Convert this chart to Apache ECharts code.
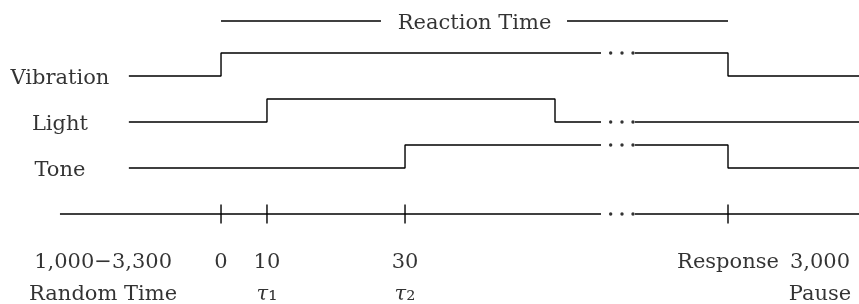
<!DOCTYPE html>
<html>
<head>
<meta charset="utf-8">
<script src="https://cdn.jsdelivr.net/npm/echarts@6/dist/echarts.min.js"></script>
<style>
  html, body { margin: 0; padding: 0; background: #fff; }
  #chart { width: 859px; height: 304px; }
</style>
</head>
<body>
<div id="chart"></div>
<script>
// positions along the schematic (not to scale) time axis, 0-100
var xSignalStart = 15.0;
var xOnset = 25.73;      // 0
var xTau1 = 31.08;       // 10
var xTau2 = 47.15;       // 30
var xLightOff = 64.61;
var xGapLeft = 69.97;
var xGapRight = 73.92;
var xResponse = 84.75;
var xEnd = 100;
var xAxisStart = 6.98;

// signals: [position, level 0/1], null = break (the "..." gap)
var signalNames = ['Vibration', 'Light', 'Tone'];
var signalRows = [6, 4, 2];
var vibrationSteps = [[xSignalStart, 0], [xOnset, 1], [xGapLeft, 1], null, [xGapRight, 1], [xResponse, 0], [xEnd, 0]];
var lightSteps = [[xSignalStart, 0], [xTau1, 1], [xLightOff, 0], [xGapLeft, 0], null, [xGapRight, 0], [xEnd, 0]];
var toneSteps = [[xSignalStart, 0], [xTau2, 1], [xGapLeft, 1], null, [xGapRight, 1], [xResponse, 0], [xEnd, 0]];
var signalSteps = [vibrationSteps, lightSteps, toneSteps];

// the dots of the gap
var dotX = [71.09, 72.41, 73.69];
var dotLevels = [7, 4, 3, 0];

// time line and ticks
var timeline = [[xAxisStart, 0], [xGapLeft, 0], null, [xGapRight, 0], [xEnd, 0]];
var tickX = [xOnset, xTau1, xTau2, xResponse];

// labels under the time line
var labelX1 = [12.0, xOnset, xTau1, xTau2, xResponse, 95.46];
var labelText1 = ['1,000\u22123,300', '0', '10', '30', 'Response', '3,000'];
var labelX2 = [12.0, xTau1, xTau2, 95.46];
var labelText2 = ['Random Time', '{t|\u03c4}{s|\u2081}', '{t|\u03c4}{s|\u2082}', 'Pause'];

// reaction time bracket
var reactionLevel = 8.39;
var reactionLeft = [xOnset, 44.35];
var reactionRight = [66.01, xResponse];
var reactionTextX = 55.24;

var FONT = 'DejaVu Serif';
var FS = 21;

function splitSegments(points) {
	var segs = [], cur = [];
	points.forEach(function (p) {
		if (p === null) { if (cur.length) segs.push(cur); cur = []; }
		else cur.push(p);
	});
	if (cur.length) segs.push(cur);
	return segs;
}

function lineSeries(data, step) {
	return {
		type: 'line',
		data: data,
		step: step || false,
		showSymbol: false,
		symbol: 'none',
		silent: true,
		clip: false,
		lineStyle: { color: '#000', width: 1.4 }
	};
}

function textSeries(items) {
	return {
		type: 'scatter',
		symbolSize: 0,
		silent: true,
		clip: false,
		data: items,
		label: {
			show: true,
			position: 'inside',
			color: '#000',
			fontFamily: FONT,
			fontSize: FS,
			formatter: function (p) { return p.name; },
			rich: {
				t: { fontFamily: FONT, fontSize: FS, fontStyle: 'italic', color: '#000' },
				s: { fontFamily: FONT, fontSize: FS + 2, color: '#000' }
			}
		}
	};
}

var series = [];

// signal traces
signalSteps.forEach(function (steps, i) {
	splitSegments(steps).forEach(function (seg) {
		series.push(lineSeries(seg.map(function (p) { return [p[0], signalRows[i] + p[1]]; }), 'end'));
	});
});

// time line + ticks
splitSegments(timeline).forEach(function (seg) { series.push(lineSeries(seg)); });
tickX.forEach(function (x) { series.push(lineSeries([[x, -0.41], [x, 0.41]])); });

// reaction time bracket
series.push(lineSeries([[reactionLeft[0], reactionLevel], [reactionLeft[1], reactionLevel]]));
series.push(lineSeries([[reactionRight[0], reactionLevel], [reactionRight[1], reactionLevel]]));

// gap dots
var dots = [];
dotLevels.forEach(function (lv) { dotX.forEach(function (x) { dots.push([x, lv]); }); });
series.push({
	type: 'scatter',
	symbol: 'circle',
	symbolSize: 3.4,
	silent: true,
	itemStyle: { color: '#000' },
	data: dots
});

// texts
var texts = [];
signalNames.forEach(function (n, i) { texts.push({ name: n, value: [xAxisStart, signalRows[i] - 0.1] }); });
labelText1.forEach(function (t, i) { texts.push({ name: t, value: [labelX1[i], -2.11] }); });
labelText2.forEach(function (t, i) { texts.push({ name: t, value: [labelX2[i], -3.5] }); });
texts.push({ name: 'Reaction Time', value: [reactionTextX, 8.26] });
series.push(textSeries(texts));

var chart = echarts.init(document.getElementById('chart'));
chart.setOption({
	animation: false,
	backgroundColor: '#fff',
	grid: { left: 0, right: 0, top: 7, height: 299, outerBoundsMode: 'none' },
	xAxis: { type: 'value', min: 0, max: 100, show: false },
	yAxis: { type: 'value', min: -4, max: 9, show: false },
	series: series
});
</script>
</body>
</html>
